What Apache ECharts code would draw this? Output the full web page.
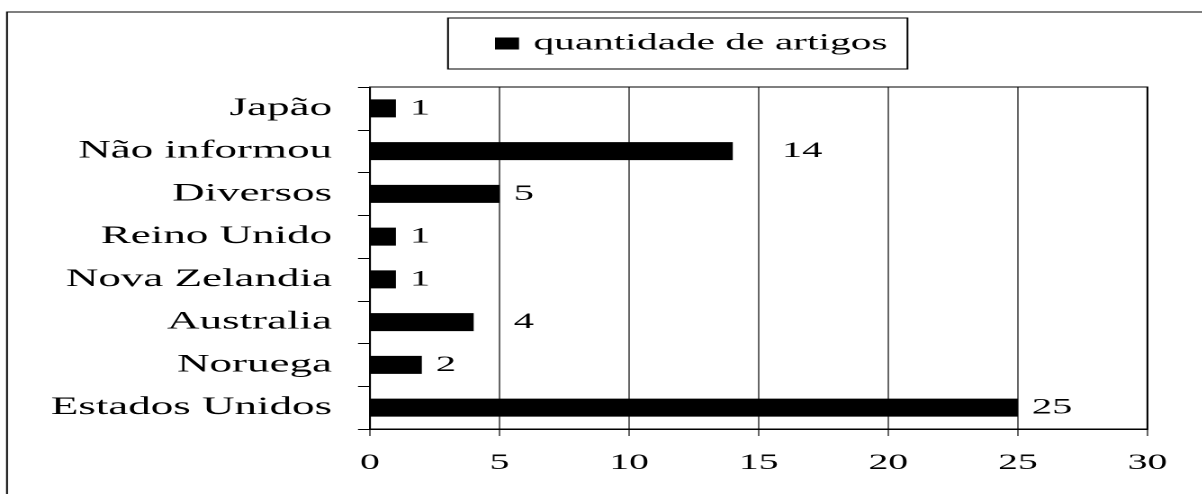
<!DOCTYPE html>
<html><head><meta charset="utf-8">
<script src="https://cdn.jsdelivr.net/npm/echarts@6/dist/echarts.min.js"></script>
<style>
html,body{margin:0;padding:0;background:#fff;overflow:hidden}
#wrap{width:1203px;height:494px;overflow:hidden;position:relative;background:#fff}
#chart{position:absolute;left:0;top:0;height:494px;transform-origin:0 0}
</style></head>
<body><div id="wrap"><div id="chart"></div></div>
<script>
// ---- data (bottom to top, as ECharts category axis draws them) ----
const categories = ['Estados Unidos', 'Noruega', 'Australia', 'Nova Zelandia', 'Reino Unido', 'Diversos', 'Não informou', 'Japão'];
const values = [25, 2, 4, 1, 1, 5, 14, 1];
const seriesName = 'quantidade de artigos';
const xMin = 0, xMax = 30, xStep = 5;

// ---- layout: the reference is horizontally stretched, so the chart is drawn narrower and stretched ----
const K = 1.8;
const W = 1203 / K;
const X = px => px / K;            // page x -> chart units
const el = document.getElementById('chart');
el.style.width = W + 'px';
el.style.transform = 'scaleX(' + K + ')';

const FONT = '"Liberation Serif", "Times New Roman", serif';
const labelShift = { 'Não informou': 35, 'Australia': 26 };   // extra label offset, page px

const chart = echarts.init(el, null, { renderer: 'canvas', devicePixelRatio: 2 });
chart.setOption({
  animation: false,
  backgroundColor: '#fff',
  graphic: [{
    type: 'rect', silent: true, z: 100,
    shape: { x: X(7), y: 12, width: W, height: 600 },
    style: { fill: 'none', stroke: '#000', lineWidth: 1 }
  }],
  legend: {
    show: true,
    left: X(448), top: 18,
    padding: [14, X(20), 14, X(495) - X(448)],
    borderColor: '#000', borderWidth: 1,
    itemWidth: X(24), itemHeight: 12, itemGap: 10,
    icon: 'rect',
    textStyle: { fontFamily: FONT, fontSize: 23, color: '#000', padding: [0, 0, 0, 3] },
    data: [seriesName]
  },
  grid: {
    left: X(370), right: W - X(1148), top: 87, bottom: 494 - 429,
    containLabel: false, outerBoundsMode: 'none',
    show: true, borderColor: '#000', borderWidth: 1, backgroundColor: 'transparent'
  },
  xAxis: {
    type: 'value', min: xMin, max: xMax, interval: xStep,
    axisLine: { show: true, lineStyle: { color: '#000', width: 1 } },
    axisTick: { show: true, length: 7, lineStyle: { color: '#000', width: 0.6 } },
    axisLabel: { margin: 23, fontFamily: FONT, fontSize: 22, color: '#000' },
    splitLine: { show: true, lineStyle: { color: '#000', width: 0.6 } }
  },
  yAxis: {
    type: 'category', data: categories,
    axisLine: { show: true, lineStyle: { color: '#000', width: 0.6 } },
    axisTick: { show: true, length: X(12), lineStyle: { color: '#000', width: 1 } },
    axisLabel: { margin: X(38), fontFamily: FONT, fontSize: 25, color: '#000' },
    splitLine: { show: false }
  },
  series: [{
    type: 'bar', name: seriesName,
    barWidth: 18,
    itemStyle: { color: '#000' },
    label: { show: true, position: 'right', distance: X(14), fontFamily: FONT, fontSize: 22.5, color: '#000' },
    data: values.map((v, i) => {
      const s = labelShift[categories[i]];
      return s ? { value: v, label: { offset: [X(s), 0] } } : v;
    })
  }]
});
</script>
</body></html>
